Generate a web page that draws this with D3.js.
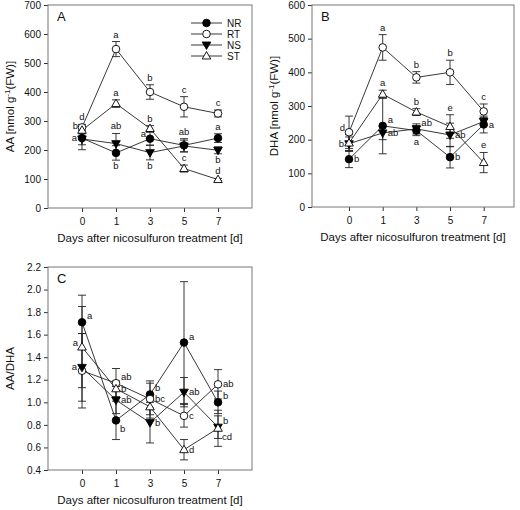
<!DOCTYPE html>
<html><head><meta charset="utf-8">
<script src="https://cdn.jsdelivr.net/npm/d3@7"></script>
<style>body{margin:0;background:#fff} svg{display:block} text{font-family:"Liberation Sans",Arial,sans-serif;fill:#111}</style>
</head><body><svg id="c" width="520" height="510"></svg>
<script>
// ---------- data ----------
const days = ["0", "1", "3", "5", "7"];
const seriesNames = ["NR", "RT", "NS", "ST"];

// Panel A: AA [nmol g-1 (FW)]
const aaNR = [241, 190, 239, 216, 241];
const aaNRerr = [40, 25, 22, 23, 15];
const aaRT = [278, 548, 400, 349, 326];
const aaRTerr = [10, 26, 25, 35, 12];
const aaNS = [238, 222, 191, 214, 199];
const aaNSerr = [20, 35, 25, 20, 12];
const aaST = [268, 360, 274, 136, 98];
const aaSTerr = [12, 13, 10, 12, 4];
const aaTicks = [0, 100, 200, 300, 400, 500, 600, 700];

// Panel B: DHA [nmol g-1 (FW)]
const dhaNR = [142, 241, 227, 148, 245];
const dhaNRerr = [25, 83, 15, 32, 25];
const dhaRT = [222, 474, 385, 400, 284];
const dhaRTerr = [48, 38, 17, 36, 22];
const dhaNS = [188, 220, 232, 214, 254];
const dhaNSerr = [20, 20, 15, 35, 12];
const dhaST = [190, 335, 282, 239, 132];
const dhaSTerr = [25, 12, 10, 35, 30];
const dhaTicks = [0, 100, 200, 300, 400, 500, 600];

// Panel C: AA/DHA
const ratioNR = [1.71, 0.84, 1.07, 1.53, 1.00];
const ratioNRerr = [0.24, 0.17, 0.12, 0.54, 0.10];
const ratioRT = [1.28, 1.17, 1.03, 0.88, 1.16];
const ratioRTerr = [0.33, 0.13, 0.14, 0.10, 0.13];
const ratioNS = [1.31, 1.02, 0.82, 1.09, 0.78];
const ratioNSerr = [0.30, 0.12, 0.18, 0.13, 0.10];
const ratioST = [1.49, 1.12, 0.96, 0.58, 0.77];
const ratioSTerr = [0.36, 0.07, 0.10, 0.09, 0.16];
const ratioTicks = [0.4, 0.6, 0.8, 1.0, 1.2, 1.4, 1.6, 1.8, 2.0, 2.2];

// significance letters and where they sit relative to the point
const aaLetters = {
  NR: [["a","l"],["b","b"],["a","ul"],["ab","a"],["a","a"]],
  RT: [["d","a"],["a","a"],["b","a"],["c","a"],["c","a"]],
  NS: [["",""],["ab","a"],["b","b"],["",""],["b","b"]],
  ST: [["b","ul"],["a","a"],["b","a"],["c","a"],["d","a"]]
};
const dhaLetters = {
  NR: [["b","r"],["a","ur"],["a","b"],["b","r"],["a","r"]],
  RT: [["d","ul"],["a","a"],["b","a"],["b","a"],["c","a"]],
  NS: [["b","l"],["ab","r"],["ab","ur"],["ab","r"],["",""]],
  ST: [["",""],["a","a"],["b","a"],["e","a"],["e","a"]]
};
const ratioLetters = {
  NR: [["a","ur"],["b","dr"],["b","ur"],["a","ur"],["b","ur"]],
  RT: [["",""],["ab","ur"],["bc","r"],["c","r"],["ab","r"]],
  NS: [["a","l"],["ab","r"],["b","r"],["ab","r"],["b","ur"]],
  ST: [["a","ul"],["b","r"],["",""],["d","r"],["cd","dr"]]
};

// ---------- drawing ----------
const svg = d3.select("#c");
const frameColor = "#777";
const lineColor = "#222";

function marker(g, name, x, y) {
  if (name === "NR" || name === "RT") {
    g.append("circle").attr("cx", x).attr("cy", y).attr("r", 3.8)
      .attr("fill", name === "NR" ? "#000" : "#fff").attr("stroke", "#000").attr("stroke-width", 0.9);
  } else {
    const p = d3.symbol().type(d3.symbolTriangle).size(32)();
    g.append("path").attr("d", p)
      .attr("transform", `translate(${x},${y + (name === "NS" ? -0.5 : 0.5)}) rotate(${name === "NS" ? 180 : 0})`)
      .attr("fill", name === "NS" ? "#000" : "#fff").attr("stroke", "#000").attr("stroke-width", 0.9);
  }
}

function drawPanel(cfg) {
  const g = svg.append("g");
  const x = d3.scaleLinear().domain(cfg.xDomain).range([cfg.left, cfg.right]);
  const y = d3.scaleLinear().domain(cfg.yDomain).range([cfg.bottom, cfg.top]);

  // axes
  const ya = g.append("g").attr("transform", `translate(${cfg.left},0)`)
    .call(d3.axisLeft(y).tickValues(cfg.yTicks).tickFormat(cfg.yFormat).tickSize(4).tickSizeOuter(0).tickPadding(3));
  const xa = g.append("g").attr("transform", `translate(0,${cfg.bottom})`)
    .call(d3.axisBottom(x).tickValues(d3.range(days.length)).tickFormat(i => days[i]).tickSize(4).tickSizeOuter(0).tickPadding(6));
  [ya, xa].forEach(a => {
    a.select(".domain").remove();
    a.selectAll("line").attr("stroke", "#333");
    a.selectAll("text").attr("font-size", 10).attr("fill", "#111").style("font-family", '"Liberation Sans",Arial,sans-serif');
  });

  // frame
  g.append("rect").attr("x", cfg.left).attr("y", cfg.top)
    .attr("width", cfg.right - cfg.left).attr("height", cfg.bottom - cfg.top)
    .attr("fill", "none").attr("stroke", frameColor).attr("stroke-width", 1);

  // panel letter
  g.append("text").attr("x", cfg.left + 9).attr("y", cfg.top + 16).attr("font-size", 13).text(cfg.letter);

  // axis titles
  g.append("text").attr("x", (cfg.left + cfg.right) / 2).attr("y", cfg.bottom + 34)
    .attr("text-anchor", "middle").attr("font-size", 11.5).text("Days after nicosulfuron treatment [d]");
  const yt = g.append("text").attr("transform", `translate(${cfg.left - 34},${(cfg.top + cfg.bottom) / 2}) rotate(-90)`)
    .attr("text-anchor", "middle").attr("font-size", 11.5);
  yt.append("tspan").text(cfg.yTitle[0]);
  if (cfg.yTitle.length > 1) {
    yt.append("tspan").attr("dy", -4).attr("font-size", 8).text("-1");
    yt.append("tspan").attr("dy", 4).text(cfg.yTitle[1]);
  }

  // lines
  seriesNames.forEach(s => {
    const vals = cfg.values[s];
    g.append("path").attr("d", d3.line().x((d, i) => x(i)).y(d => y(d))(vals))
      .attr("fill", "none").attr("stroke", lineColor).attr("stroke-width", 0.9);
  });
  // error bars
  seriesNames.forEach(s => {
    const vals = cfg.values[s], errs = cfg.errors[s];
    vals.forEach((v, i) => {
      const cx = x(i), yt2 = y(v + errs[i]), yb = y(v - errs[i]);
      g.append("line").attr("x1", cx).attr("x2", cx).attr("y1", yt2).attr("y2", yb).attr("stroke", lineColor).attr("stroke-width", 0.9);
      [yt2, yb].forEach(yy => g.append("line").attr("x1", cx - 4).attr("x2", cx + 4).attr("y1", yy).attr("y2", yy)
        .attr("stroke", lineColor).attr("stroke-width", 0.9));
    });
  });
  // markers
  seriesNames.forEach(s => {
    cfg.values[s].forEach((v, i) => marker(g, s, x(i), y(v)));
  });
  // letters
  seriesNames.forEach(s => {
    const vals = cfg.values[s], errs = cfg.errors[s];
    cfg.letters[s].forEach(([txt, pos], i) => {
      if (!txt) return;
      const px = x(i), py = y(vals[i]);
      let tx = px, ty = py, anchor = "middle";
      if (pos === "a") { ty = y(vals[i] + errs[i]) - 4; }
      else if (pos === "b") { ty = y(vals[i] - errs[i]) + 9; }
      else if (pos === "l") { tx = px - 5; ty = py + 3; anchor = "end"; }
      else if (pos === "r") { tx = px + 5; ty = py + 3; anchor = "start"; }
      else if (pos === "ur") { tx = px + 5; ty = py - 3; anchor = "start"; }
      else if (pos === "ul") { tx = px - 4; ty = py - 1.5; anchor = "end"; }
      else if (pos === "dr") { tx = px + 4; ty = py + 12; anchor = "start"; }
      g.append("text").attr("x", tx).attr("y", ty).attr("text-anchor", anchor)
        .attr("font-size", 9.5).text(txt);
    });
  });
  return g;
}

const gA = drawPanel({
  letter: "A", left: 48, right: 252, top: 5, bottom: 208, xDomain: [-1, 5],
  yDomain: [0, 700], yTicks: aaTicks, yFormat: d3.format("d"),
  yTitle: ["AA [nmol g", "(FW)]"],
  values: { NR: aaNR, RT: aaRT, NS: aaNS, ST: aaST },
  errors: { NR: aaNRerr, RT: aaRTerr, NS: aaNSerr, ST: aaSTerr },
  letters: aaLetters
});
drawPanel({
  letter: "B", left: 312, right: 514, top: 5, bottom: 207, xDomain: [-1.1, 4.9],
  yDomain: [0, 600], yTicks: dhaTicks, yFormat: d3.format("d"),
  yTitle: ["DHA [nmol g", "(FW)]"],
  values: { NR: dhaNR, RT: dhaRT, NS: dhaNS, ST: dhaST },
  errors: { NR: dhaNRerr, RT: dhaRTerr, NS: dhaNSerr, ST: dhaSTerr },
  letters: dhaLetters
});
drawPanel({
  letter: "C", left: 48, right: 252, top: 267, bottom: 470, xDomain: [-1, 5],
  yDomain: [0.4, 2.2], yTicks: ratioTicks, yFormat: d3.format(".1f"),
  yTitle: ["AA/DHA"],
  values: { NR: ratioNR, RT: ratioRT, NS: ratioNS, ST: ratioST },
  errors: { NR: ratioNRerr, RT: ratioRTerr, NS: ratioNSerr, ST: ratioSTerr },
  letters: ratioLetters
});

// legend (panel A)
const leg = gA.append("g");
seriesNames.forEach((s, i) => {
  const yy = 23 + i * 11;
  leg.append("line").attr("x1", 191).attr("x2", 222).attr("y1", yy).attr("y2", yy).attr("stroke", lineColor).attr("stroke-width", 0.9);
  marker(leg, s, 206.5, yy);
  leg.append("text").attr("x", 227).attr("y", yy + 3.5).attr("font-size", 10).text(s);
});
</script></body></html>
